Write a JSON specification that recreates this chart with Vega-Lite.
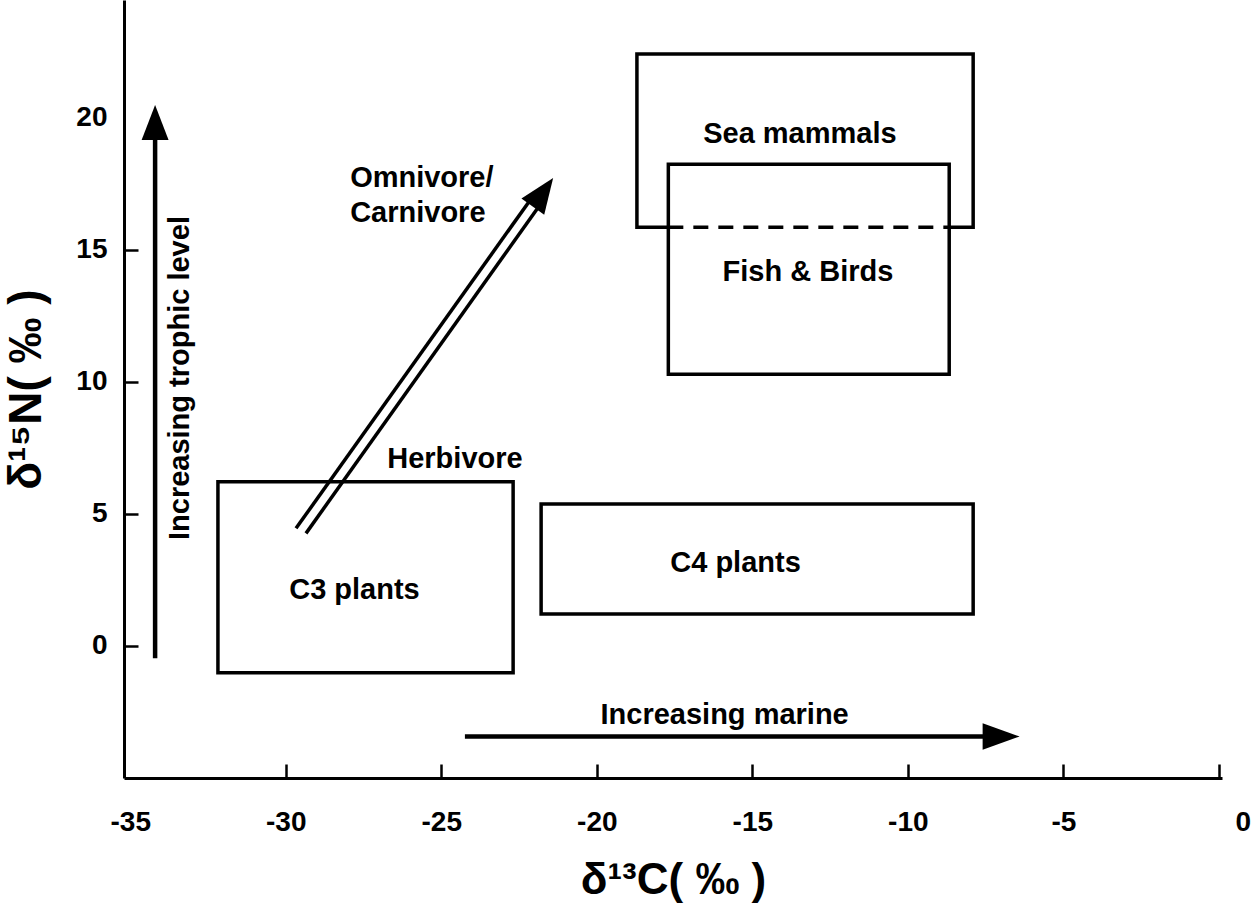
{
  "$schema": "https://vega.github.io/schema/vega-lite/v6.json",
  "autosize": {"type": "none"},
  "padding": {"left": 124, "top": 0, "right": 30, "bottom": 127},
  "width": 1098,
  "height": 778,
  "background": "white",
  "config": {
    "font": "Liberation Sans",
    "view": {"stroke": null},
    "text": {"font": "Liberation Sans", "fontWeight": "bold", "fontSize": 29, "color": "black"}
  },
  "datasets": {
    "boxes": [
      {"group": "C3 plants", "x": -32.18, "xe": -22.69, "y": -1.02, "ye": 6.21},
      {"group": "C4 plants", "x": -21.79, "xe": -7.9, "y": 1.21, "ye": 5.37},
      {"group": "Sea mammals", "x": -18.71, "xe": -7.9, "y": 15.85, "ye": 22.41},
      {"group": "Fish & Birds", "x": -17.70, "xe": -8.67, "y": 10.28, "ye": 18.23}
    ],
    "overlap": [
      {"x": -17.70, "xe": -8.67, "y": 15.85}
    ],
    "shafts": [
      {"arrow": "trophic", "x": -34.2, "xe": -34.2, "y": -0.47, "ye": 19.5},
      {"arrow": "marine", "x": -24.24, "xe": -7.3, "y": -3.43, "ye": -3.43},
      {"arrow": "diet", "x": -29.67, "xe": -22.11, "y": 4.45, "ye": 16.93},
      {"arrow": "diet", "x": -29.35, "xe": -21.80, "y": 4.26, "ye": 16.74}
    ],
    "heads": [
      {"arrow": "trophic", "x": -34.2, "y": 19.81},
      {"arrow": "marine", "x": -7.0, "y": -3.43},
      {"arrow": "diet", "x": -21.73, "y": 17.17}
    ],
    "labels": [
      {"text": "Sea mammals", "x": -13.47, "y": 19.38},
      {"text": "Fish & Birds", "x": -13.21, "y": 14.14},
      {"text": "C4 plants", "x": -15.54, "y": 3.14},
      {"text": "C3 plants", "x": -27.79, "y": 2.12},
      {"text": "Herbivore", "x": -24.56, "y": 7.08},
      {"text": "Increasing marine", "x": -15.89, "y": -2.61}
    ],
    "leftlabels": [
      {"text": "Omnivore/", "x": -27.93, "y": 17.71},
      {"text": "Carnivore", "x": -27.93, "y": 16.39}
    ],
    "vlabels": [
      {"text": "Increasing trophic level", "x": -33.4, "y": 10.14}
    ]
  },
  "encoding": {
    "x": {
      "field": "x", "type": "quantitative",
      "scale": {"domain": [-35.2, 0.1], "nice": false, "zero": false},
      "axis": {
        "title": "δ¹³C( ‰ )",
        "values": [-35, -30, -25, -20, -15, -10, -5, 0],
        "labelExpr": "datum.value < 0 ? '-' + abs(datum.value) : '' + datum.value",
        "grid": false,
        "domainColor": "black", "domainWidth": 3,
        "tickColor": {"condition": {"test": "datum.value === -35", "value": "transparent"}, "value": "black"},
        "tickWidth": 2.5, "tickSize": -14,
        "labelPadding": 44, "labelFontSize": 28, "labelFontWeight": "bold", "labelColor": "black",
        "labelFlush": false, "labelOverlap": false, "labelBound": false,
        "labelOffset": {"condition": {"test": "datum.value === 0", "value": 24}, "value": 0},
        "titleFontSize": 44, "titleFontWeight": "bold", "titleColor": "black", "titlePadding": 22
      }
    },
    "y": {
      "field": "y", "type": "quantitative",
      "scale": {"domain": [-5, 24.45], "nice": false, "zero": false},
      "axis": {
        "title": "δ¹⁵N( ‰ )",
        "values": [0, 5, 10, 15, 20],
        "grid": false,
        "domainColor": "black", "domainWidth": 3,
        "tickColor": {"condition": {"test": "datum.value === 20", "value": "transparent"}, "value": "black"},
        "tickWidth": 2.5, "tickSize": -14,
        "labelPadding": 31, "labelFontSize": 28, "labelFontWeight": "bold", "labelColor": "black",
        "labelOverlap": false, "labelBound": false,
        "titleFontSize": 46, "titleFontWeight": "bold", "titleColor": "black", "titlePadding": 25
      }
    }
  },
  "layer": [
    {
      "data": {"name": "boxes"},
      "transform": [{"filter": "datum.group !== 'Fish & Birds'"}],
      "mark": {"type": "rect", "fill": "white", "fillOpacity": 0, "stroke": "black", "strokeWidth": 3.5},
      "encoding": {"x2": {"field": "xe"}, "y2": {"field": "ye"}}
    },
    {
      "data": {"name": "boxes"},
      "transform": [{"filter": "datum.group === 'Fish & Birds'"}],
      "mark": {"type": "rect", "fill": "white", "fillOpacity": 1, "stroke": "black", "strokeWidth": 3.5},
      "encoding": {"x2": {"field": "xe"}, "y2": {"field": "ye"}}
    },
    {
      "data": {"name": "overlap"},
      "mark": {"type": "rule", "stroke": "black", "strokeWidth": 3.5, "strokeDash": [15, 10]},
      "encoding": {"x2": {"field": "xe"}}
    },
    {
      "data": {"name": "shafts"},
      "transform": [{"filter": "datum.arrow !== 'diet'"}],
      "mark": {"type": "rule", "stroke": "black", "strokeWidth": 4.5},
      "encoding": {"x2": {"field": "xe"}, "y2": {"field": "ye"}}
    },
    {
      "data": {"name": "shafts"},
      "transform": [{"filter": "datum.arrow === 'diet'"}],
      "mark": {"type": "rule", "stroke": "black", "strokeWidth": 3.5},
      "encoding": {"x2": {"field": "xe"}, "y2": {"field": "ye"}}
    },
    {
      "data": {"name": "heads"},
      "transform": [{"filter": "datum.arrow === 'trophic'"}],
      "mark": {"type": "point", "shape": "M0,-1L0.77,1L-0.77,1Z", "filled": true, "fill": "black", "strokeWidth": 0, "opacity": 1, "size": 1225, "angle": 0},
      "encoding": {}
    },
    {
      "data": {"name": "heads"},
      "transform": [{"filter": "datum.arrow === 'marine'"}],
      "mark": {"type": "point", "shape": "M0,-1L0.72,1L-0.72,1Z", "filled": true, "fill": "black", "strokeWidth": 0, "opacity": 1, "size": 1369, "angle": 90},
      "encoding": {}
    },
    {
      "data": {"name": "heads"},
      "transform": [{"filter": "datum.arrow === 'diet'"}],
      "mark": {"type": "point", "shape": "M0,-1L0.8,1L-0.8,1Z", "filled": true, "fill": "black", "strokeWidth": 0, "opacity": 1, "size": 1225, "angle": 35.5},
      "encoding": {}
    },
    {
      "data": {"name": "labels"},
      "mark": {"type": "text", "align": "center", "baseline": "middle"},
      "encoding": {"text": {"field": "text"}}
    },
    {
      "data": {"name": "leftlabels"},
      "mark": {"type": "text", "align": "left", "baseline": "middle"},
      "encoding": {"text": {"field": "text"}}
    },
    {
      "data": {"name": "vlabels"},
      "mark": {"type": "text", "align": "center", "baseline": "middle", "angle": 270},
      "encoding": {"text": {"field": "text"}}
    }
  ]
}
